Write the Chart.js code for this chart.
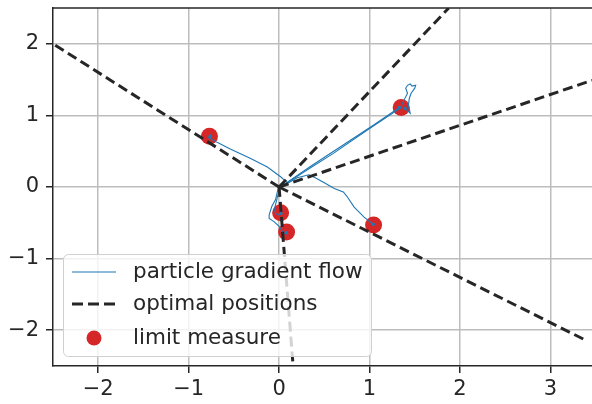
<!DOCTYPE html>
<html>
<head>
<meta charset="utf-8">
<script src="https://cdn.jsdelivr.net/npm/chart.js@4"></script>
<style>
  body { margin: 0; background: #fff; }
  #wrap { width: 592px; height: 404px; position: relative; }
</style>
</head>
<body>
<div id="wrap"><canvas id="flowChart"></canvas></div>
<script>
// tick labels
const xTicks = [-2, -1, 0, 1, 2, 3];
const yTicks = [-2, -1, 0, 1, 2];

// particle trajectories (x, y)
const flowA = [[0.06, 0.02], [0.09, 0.06], [0.02, 0.14], [-0.13, 0.28], [-0.32, 0.40], [-0.54, 0.53], [-0.68, 0.62], [-0.78, 0.69], [-0.76, 0.71]];
const flowB = [[0.03, 0.01], [0.3, 0.23], [0.6, 0.47], [0.98, 0.80], [1.34, 1.10], [1.38, 1.21], [1.42, 1.31], [1.40, 1.38], [1.42, 1.42], [1.45, 1.44], [1.47, 1.41], [1.51, 1.42], [1.50, 1.38], [1.46, 1.31], [1.44, 1.24], [1.43, 1.14], [1.45, 1.03], [1.39, 1.10]];
const flowB2 = [[0.06, 0.04], [0.35, 0.29], [0.7, 0.58], [1.05, 0.87], [1.33, 1.11]];
const flowC = [[0.04, 0.01], [0.09, 0.05], [0.2, 0.13], [0.33, 0.17], [0.40, 0.13], [0.50, 0.06], [0.61, -0.02], [0.71, -0.07], [0.75, -0.13], [0.83, -0.28], [0.94, -0.42], [1.04, -0.52]];
const flowD = [[0.0, -0.04], [-0.03, -0.2], [-0.05, -0.30], [-0.04, -0.37], [0.0, -0.39], [0.02, -0.37]];
const flowE = [[-0.01, -0.02], [-0.04, -0.18], [-0.08, -0.27], [-0.11, -0.39], [-0.11, -0.44], [-0.06, -0.48], [0.0, -0.55], [0.05, -0.65], [0.08, -0.64]];
const flowPaths = [flowA, flowB, flowB2, flowC, flowD, flowE];

// optimal directions: rays from the origin to where they leave the axes
const rayEnds = [[-2.5, 2.0], [1.876, 2.5], [3.46, 1.49], [3.39, -2.14], [0.155, -2.5]];

// limit measure
const limitX = [-0.77, 1.35, 1.045, 0.017, 0.083];
const limitY = [0.71, 1.11, -0.53, -0.36, -0.63];

const legendLabels = ["particle gradient flow", "optimal positions", "limit measure"];

const FONT = "DejaVu Sans";
const INK = "#262626";
const BLUE = "#1f77b4";
const RED = "#d62728";

const toPts = (arr) => arr.map((p) => ({ x: p[0], y: p[1] }));

const datasets = [];
// dashed rays on top
rayEnds.forEach((e) => {
	datasets.push({
		data: toPts([[0, 0], e]),
		showLine: true,
		borderColor: INK,
		borderWidth: 3,
		borderDash: [10, 5],
		pointRadius: 0,
		fill: false,
	});
});
// flow lines
flowPaths.forEach((path) => {
	datasets.push({
		data: toPts(path),
		showLine: true,
		borderColor: BLUE,
		backgroundColor: BLUE,
		borderWidth: 1.1,
		pointRadius: (ctx) => (ctx.dataIndex === path.length - 1 ? 1.8 : 0),
		pointBorderWidth: 0,
		fill: false,
	});
});
// limit measure at the back
datasets.push({
	data: limitX.map((x, i) => ({ x: x, y: limitY[i] })),
	showLine: false,
	pointRadius: 8.5,
	pointBackgroundColor: RED,
	pointBorderWidth: 0,
});

// top spine + in-plot legend
const framePlugin = {
	id: "frame",
	afterDatasetsDraw(chart) {
		const ctx = chart.ctx;
		const a = chart.chartArea;
		ctx.save();
		ctx.strokeStyle = INK;
		ctx.lineWidth = 1.5;
		ctx.beginPath();
		ctx.moveTo(a.left, a.top);
		ctx.lineTo(a.right, a.top);
		ctx.stroke();

		// legend box
		const bx = 63.5, by = 254.5, bw = 308, bh = 102, r = 5;
		ctx.beginPath();
		ctx.roundRect(bx, by, bw, bh, r);
		ctx.fillStyle = "rgba(255,255,255,0.8)";
		ctx.fill();
		ctx.strokeStyle = "#d0d0d0";
		ctx.lineWidth = 1;
		ctx.stroke();

		const rows = [272, 304, 338];
		// blue line sample
		ctx.strokeStyle = BLUE;
		ctx.lineWidth = 1.2;
		ctx.beginPath();
		ctx.moveTo(72, rows[0]);
		ctx.lineTo(116, rows[0]);
		ctx.stroke();
		// dashed sample
		ctx.strokeStyle = INK;
		ctx.lineWidth = 3;
		ctx.setLineDash([11, 5]);
		ctx.beginPath();
		ctx.moveTo(72, rows[1]);
		ctx.lineTo(116, rows[1]);
		ctx.stroke();
		ctx.setLineDash([]);
		// red dot
		ctx.fillStyle = RED;
		ctx.beginPath();
		ctx.arc(94, rows[2], 7.5, 0, Math.PI * 2);
		ctx.fill();

		ctx.fillStyle = INK;
		ctx.font = "21.5px '" + FONT + "'";
		ctx.textBaseline = "middle";
		ctx.textAlign = "left";
		legendLabels.forEach((t, i) => ctx.fillText(t, 133, rows[i]));
		ctx.restore();
	},
};

const minusFmt = (v) => String(v).replace("-", "\u2212");

new Chart(document.getElementById("flowChart"), {
	type: "scatter",
	data: { datasets: datasets },
	options: {
		responsive: true,
		maintainAspectRatio: false,
		devicePixelRatio: 1,
		animation: false,
		layout: { autoPadding: false, padding: { top: 8, right: 0, left: 0, bottom: 0 } },
		plugins: { legend: { display: false }, tooltip: { enabled: false } },
		scales: {
			x: {
				type: "linear",
				min: -2.5,
				max: 3.46,
				afterBuildTicks: (s) => { s.ticks = xTicks.map((v) => ({ value: v })); },
				afterFit: (s) => {
					s.height = 38;
					s.paddingLeft = 0;
					s.paddingRight = 0;
				},
				ticks: {
					callback: minusFmt,
					color: INK,
					font: { family: FONT, size: 21 },
					padding: 4,
					maxRotation: 0,
				},
				grid: { color: "#bdbdbd", lineWidth: 1.5, tickColor: INK, tickLength: 7, tickWidth: 1.5 },
				border: { color: INK, width: 1.5 },
			},
			y: {
				type: "linear",
				min: -2.5,
				max: 2.5,
				afterBuildTicks: (s) => { s.ticks = yTicks.map((v) => ({ value: v })); },
				afterFit: (s) => {
					s.width = 53;
					s.paddingTop = 0;
					s.paddingBottom = 0;
				},
				ticks: {
					callback: minusFmt,
					color: INK,
					font: { family: FONT, size: 21 },
					padding: 7,
				},
				grid: { color: "#bdbdbd", lineWidth: 1.5, tickColor: INK, tickLength: 7, tickWidth: 1.5 },
				border: { color: INK, width: 1.5 },
			},
		},
	},
	plugins: [framePlugin],
});
</script>
</body>
</html>
